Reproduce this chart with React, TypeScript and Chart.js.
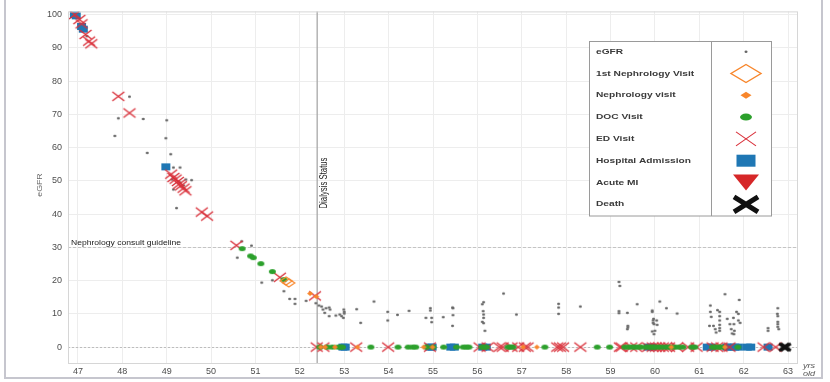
import React, { useEffect, useRef } from 'react';
import { Chart, registerables } from 'chart.js';
Chart.register(...registerables);

const FONT = '"Liberation Sans", Arial, Helvetica, sans-serif';

const xTicks = [47, 48, 49, 50, 51, 52, 53, 54, 55, 56, 57, 58, 59, 60, 61, 62, 63];
const yTicks = [0, 10, 20, 30, 40, 50, 60, 70, 80, 90, 100];
const guidelineEgfr = 30;
const dialysisAge = 52.39;

// [age, eGFR]
const egfr: number[][] = [
  [46.93, 100], [47.08, 96], [47.2, 93.5],
  [48.16, 75.3], [47.91, 68.8], [48.47, 68.6], [49.0, 68.2], [47.83, 63.5], [48.98, 62.8], [48.56, 58.4], [49.09, 58.0], [49.15, 54], [49.3, 54],
  [49.12, 50.4], [49.15, 47.4], [49.43, 50.4], [49.56, 50.2], [49.22, 41.8], [49.3, 49.5], [49.38, 48.6],
  [50.69, 31.8], [50.59, 26.9], [50.91, 30.5], [51.14, 19.4], [51.38, 20.1], [51.64, 16.8], [51.77, 14.5], [51.89, 14.5], [51.89, 13.0], [52.14, 13.9],
  [52.36, 13.2], [52.43, 12.5], [52.49, 12.2], [52.59, 11.7], [52.52, 11.3], [52.66, 11.9], [52.56, 10.3], [52.68, 11.3], [52.66, 9.3], [52.81, 9.5],
  [52.9, 9.8], [52.94, 9.3], [52.98, 8.8], [52.99, 11.3], [53.0, 10.6], [53.0, 10.1], [53.28, 11.4], [53.37, 7.3], [53.67, 13.7], [53.98, 10.6],
  [53.98, 8.0], [54.2, 9.7], [54.46, 10.9], [54.84, 8.8], [54.94, 11.7], [54.94, 11.0], [54.97, 8.8], [54.97, 7.5],
  [55.23, 9.0], [55.44, 11.9], [55.45, 11.7], [55.45, 9.6], [55.44, 6.4],
  [56.11, 12.9], [56.14, 13.5], [56.13, 10.8], [56.14, 9.8], [56.14, 8.8], [56.11, 7.6], [56.14, 7.2], [56.17, 4.9],
  [56.59, 16.1], [56.88, 9.8], [57.83, 13.0], [57.83, 11.9], [57.83, 10.0], [58.32, 12.2],
  [59.19, 19.6], [59.21, 18.4], [59.19, 10.8], [59.19, 10.2], [59.38, 10.3], [59.39, 6.4], [59.39, 5.9], [59.38, 5.4], [59.6, 12.9],
  [59.94, 11.0], [59.94, 10.6], [59.97, 8.5], [59.96, 8.0], [59.96, 7.3], [59.98, 6.9], [60.04, 8.0], [60.05, 6.7], [59.94, 4.7], [60.0, 4.9],
  [59.98, 3.9], [60.11, 13.7], [60.26, 11.7], [60.5, 10.1],
  [61.25, 12.5], [61.25, 10.6], [61.27, 9.1], [61.23, 6.4], [61.32, 6.4], [61.36, 5.4], [61.38, 4.4], [61.41, 11.1], [61.46, 10.6], [61.46, 9.3],
  [61.46, 8.0], [61.46, 6.7], [61.46, 5.7], [61.46, 4.9], [61.58, 15.9], [61.63, 8.5], [61.69, 6.9], [61.72, 5.4], [61.74, 4.1], [61.77, 8.8],
  [61.78, 6.9], [61.79, 4.9], [61.78, 3.9], [61.84, 10.6], [61.88, 10.0], [61.9, 14.2], [61.88, 8.0], [61.92, 7.3],
  [62.55, 5.7], [62.55, 4.9], [62.77, 11.7], [62.76, 10.0], [62.77, 9.3], [62.77, 7.6], [62.77, 6.9], [62.77, 6.1], [62.79, 5.4],
];

const firstNephrologyVisit: number[][] = [[51.69, 19.9], [51.75, 19.3]];

const nephrologyVisit: number[][] = [
  [52.23, 16.1], [52.37, 15.2],
  [52.47, 0], [52.57, 0], [52.79, 0], [53.3, 0], [54.79, 0], [54.99, 0], [57.03, 0], [57.34, 0], [60.37, 0], [61.58, 0],
];

const docVisit: number[][] = [
  [50.7, 29.6], [50.89, 27.4], [50.95, 26.9], [51.12, 25.1], [51.38, 22.7], [51.64, 20.3],
  [52.45, 0], [52.62, 0], [52.73, 0], [52.86, 0], [52.92, 0], [52.96, 0], [53.6, 0], [54.21, 0], [54.44, 0], [54.54, 0],
  [54.61, 0], [54.85, 0], [55.0, 0], [55.24, 0], [55.53, 0], [55.68, 0], [55.75, 0], [55.81, 0], [56.1, 0], [56.15, 0],
  [56.2, 0], [56.69, 0], [56.75, 0], [56.8, 0], [57.52, 0], [58.7, 0], [58.98, 0], [59.32, 0], [59.4, 0], [59.48, 0],
  [59.55, 0], [59.62, 0], [59.69, 0], [59.8, 0], [59.88, 0], [59.93, 0], [59.98, 0], [60.05, 0], [60.12, 0], [60.2, 0],
  [60.28, 0], [60.35, 0], [60.45, 0], [60.54, 0], [60.63, 0], [60.83, 0], [60.9, 0], [61.3, 0], [61.37, 0], [61.44, 0],
  [61.5, 0], [61.87, 0],
];

const edVisit: number[][] = [
  [46.93, 100], [47.03, 98.5], [47.08, 97.2], [47.17, 94], [47.25, 92], [47.3, 91.2], [47.91, 75.4], [48.16, 70.4],
  [49.1, 52], [49.15, 51], [49.2, 50.5], [49.25, 49.8], [49.28, 49], [49.32, 48.5], [49.38, 47.8], [49.42, 47],
  [49.79, 40.6], [49.91, 39.4], [50.57, 30.6], [51.55, 21.0], [52.34, 15.4],
  [52.38, 0], [52.53, 0], [53.27, 0], [53.99, 0], [54.93, 0], [56.05, 0], [56.23, 0], [56.5, 0], [56.57, 0], [56.77, 0],
  [56.92, 0], [57.07, 0], [57.13, 0], [57.8, 0], [57.86, 0], [57.93, 0], [58.32, 0], [59.21, 0], [59.25, 0], [59.47, 0],
  [59.58, 0], [59.85, 0], [59.95, 0], [60.02, 0], [60.1, 0], [60.18, 0], [60.25, 0], [60.32, 0], [60.5, 0], [60.75, 0],
  [60.94, 0], [61.3, 0], [61.4, 0], [61.5, 0], [61.68, 0], [62.45, 0], [62.72, 0],
];

const hospitalAdmission: number[][] = [
  [46.92, 100], [46.96, 99.6], [47.08, 96.4], [47.12, 95.6], [48.98, 54.2],
  [52.97, 0], [53.02, 0], [54.93, 0], [54.98, 0], [55.4, 0], [55.48, 0], [56.12, 0], [56.2, 0], [59.85, 0], [59.93, 0],
  [61.18, 0], [61.27, 0], [61.62, 0], [61.7, 0], [61.8, 0], [61.88, 0], [62.08, 0], [62.16, 0], [62.55, 0],
];

const acuteMI: number[][] = [];

const death: number[][] = [[62.91, 0], [62.95, 0]];

const seriesNames = ['eGFR', '1st Nephrology Visit', 'Nephrology visit', 'DOC Visit', 'ED Visit', 'Hospital Admission', 'Acute MI', 'Death'];

const COLORS: Record<string, string> = {
  egfr: '#666666',
  firstNeph: '#f8862b',
  neph: '#f8862b',
  doc: '#2ca02c',
  ed: '#d9303a',
  hosp: '#1f77b4',
  mi: '#d62728',
  death: '#111111',
};

function drawMarker(ctx: CanvasRenderingContext2D, type: string, cx: number, cy: number, w: number, h: number, lw: number) {
  ctx.save();
  const c = COLORS[type];
  ctx.fillStyle = c;
  ctx.strokeStyle = c;
  ctx.lineWidth = lw;
  const hw = w / 2, hh = h / 2;
  if (type === 'egfr' || type === 'doc') {
    ctx.beginPath();
    ctx.ellipse(cx, cy, hw, hh, 0, 0, Math.PI * 2);
    ctx.fill();
  } else if (type === 'firstNeph' || type === 'neph') {
    ctx.beginPath();
    ctx.moveTo(cx, cy - hh);
    ctx.lineTo(cx + hw, cy);
    ctx.lineTo(cx, cy + hh);
    ctx.lineTo(cx - hw, cy);
    ctx.closePath();
    if (type === 'neph') ctx.fill(); else ctx.stroke();
  } else if (type === 'ed' || type === 'death') {
    ctx.lineCap = 'butt';
    ctx.beginPath();
    ctx.moveTo(cx - hw, cy - hh);
    ctx.lineTo(cx + hw, cy + hh);
    ctx.moveTo(cx + hw, cy - hh);
    ctx.lineTo(cx - hw, cy + hh);
    ctx.stroke();
  } else if (type === 'hosp') {
    ctx.fillRect(cx - hw, cy - hh, w, h);
  } else if (type === 'mi') {
    ctx.beginPath();
    ctx.moveTo(cx - hw, cy - hh);
    ctx.lineTo(cx + hw, cy - hh);
    ctx.lineTo(cx, cy + hh);
    ctx.closePath();
    ctx.fill();
  }
  ctx.restore();
}

function markerCanvas(type: string, w: number, h: number, lw: number) {
  const c = document.createElement('canvas');
  const pad = Math.ceil(lw) + 1;
  c.width = w + pad * 2;
  c.height = h + pad * 2;
  const ctx = c.getContext('2d')!;
  drawMarker(ctx, type, c.width / 2, c.height / 2, w, h, lw);
  return c;
}

const legendSpec = [
  { type: 'egfr', w: 3, h: 2.5, lw: 1 },
  { type: 'firstNeph', w: 30, h: 18, lw: 1.4 },
  { type: 'neph', w: 11, h: 7, lw: 1 },
  { type: 'doc', w: 12, h: 7, lw: 1 },
  { type: 'ed', w: 20, h: 14, lw: 1.1 },
  { type: 'hosp', w: 19, h: 12, lw: 1 },
  { type: 'mi', w: 26, h: 16, lw: 1 },
  { type: 'death', w: 24, h: 15, lw: 5 },
];

function scaledText(ctx: CanvasRenderingContext2D, text: string, x: number, y: number, font: string, sx: number, align: CanvasTextAlign, color: string, rot = 0) {
  ctx.save();
  ctx.font = font;
  ctx.fillStyle = color;
  ctx.textAlign = align;
  ctx.textBaseline = 'middle';
  ctx.translate(x, y);
  if (rot) ctx.rotate(rot);
  ctx.scale(sx, 1);
  ctx.fillText(text, 0, 0);
  ctx.restore();
}

const decorPlugin = {
  id: 'decor',
  beforeDatasetsDraw(chart: any) {
    const { ctx, chartArea: a, scales } = chart;
    const xs = scales.x, ys = scales.y;
    ctx.save();
    ctx.strokeStyle = '#c4c4c4';
    ctx.lineWidth = 1;
    ctx.setLineDash([3, 2]);
    let py = Math.round(ys.getPixelForValue(guidelineEgfr)) + 0.5;
    ctx.beginPath(); ctx.moveTo(a.left, py); ctx.lineTo(a.right, py); ctx.stroke();
    ctx.setLineDash([2, 2]);
    ctx.strokeStyle = '#bdbdbd';
    py = Math.round(ys.getPixelForValue(0)) + 0.5;
    ctx.beginPath(); ctx.moveTo(a.left, py); ctx.lineTo(a.right, py); ctx.stroke();
    ctx.setLineDash([]);
    const px = xs.getPixelForValue(dialysisAge);
    ctx.strokeStyle = '#a8a8a8';
    ctx.lineWidth = 1.3;
    ctx.beginPath(); ctx.moveTo(px, a.top); ctx.lineTo(px, a.bottom); ctx.stroke();
    ctx.restore();
  },
  afterDraw(chart: any) {
    const { ctx, chartArea: a, scales } = chart;
    const xs = scales.x, ys = scales.y;
    ctx.save();
    ctx.strokeStyle = '#d6d6d6';
    ctx.lineWidth = 1;
    ctx.strokeRect(a.left + 0.5, a.top + 0.5, a.right - a.left - 1, a.bottom - a.top);
    ctx.strokeStyle = '#c6c6ce';
    ctx.lineWidth = 2;
    ctx.beginPath();
    ctx.moveTo(5, 0); ctx.lineTo(5, 378); ctx.lineTo(822, 378); ctx.lineTo(822, 0);
    ctx.stroke();

    ctx.font = `7px ${FONT}`;
    const gw = ctx.measureText('Nephrology consult guideline').width;
    scaledText(ctx, 'Nephrology consult guideline', a.left + 3, ys.getPixelForValue(guidelineEgfr) - 4, `7px ${FONT}`, 110 / gw, 'left', '#222');

    ctx.font = `10px ${FONT}`;
    const dw = ctx.measureText('Dialysis Status').width;
    scaledText(ctx, 'Dialysis Status', xs.getPixelForValue(dialysisAge) + 7.5, 183, `10px ${FONT}`, 51 / dw, 'center', '#222', -Math.PI / 2);

    scaledText(ctx, 'eGFR', 40, 185, `7px ${FONT}`, 1.25, 'center', '#666', -Math.PI / 2);
    scaledText(ctx, 'yrs', 809, 366, `italic 7px ${FONT}`, 1.3, 'center', '#555');
    scaledText(ctx, 'old', 809, 374, `italic 7px ${FONT}`, 1.3, 'center', '#555');

    const L = 589.5, R = 771.5, T = 41.5, B = 216, D = 711.5;
    ctx.fillStyle = '#ffffff';
    ctx.fillRect(L, T, R - L, B - T);
    ctx.strokeStyle = '#9a9a9a';
    ctx.lineWidth = 1;
    ctx.strokeRect(L, T, R - L, B - T);
    ctx.beginPath(); ctx.moveTo(D, T); ctx.lineTo(D, B); ctx.stroke();
    const lf = `bold 7.5px ${FONT}`;
    ctx.font = lf;
    const hw = ctx.measureText('Hospital Admission').width;
    const sx = 95 / hw;
    seriesNames.forEach((name, i) => {
      const cy = 51.7 + i * 21.8;
      scaledText(ctx, name, 596, cy, lf, sx, 'left', '#3a3a3a');
      const s = legendSpec[i];
      drawMarker(ctx, s.type, 746, cy, s.w, s.h, s.lw);
    });
    ctx.restore();
  },
};

export default function App() {
  const ref = useRef<HTMLCanvasElement>(null);
  useEffect(() => {
    const toPts = (arr: number[][]) => arr.map(([x, y]) => ({ x, y }));
    const ds = (label: string, arr: number[][], style: HTMLCanvasElement, order: number) => ({
      label,
      data: toPts(arr),
      pointStyle: style,
      pointRadius: 3,
      pointHoverRadius: 3,
      showLine: false,
      order,
    });
    const chart = new Chart(ref.current!, {
      type: 'scatter',
      data: {
        datasets: [
          ds(seriesNames[0], egfr, markerCanvas('egfr', 3, 2.5, 1), 8),
          ds(seriesNames[5], hospitalAdmission, markerCanvas('hosp', 9, 7, 1), 7),
          ds(seriesNames[4], edVisit, markerCanvas('ed', 12, 9, 1.4), 6),
          ds(seriesNames[3], docVisit, markerCanvas('doc', 7, 5, 1), 5),
          ds(seriesNames[2], nephrologyVisit, markerCanvas('neph', 6, 5, 1), 4),
          ds(seriesNames[1], firstNephrologyVisit, markerCanvas('firstNeph', 12, 8, 1.2), 3),
          ds(seriesNames[6], acuteMI, markerCanvas('mi', 12, 8, 1), 2),
          ds(seriesNames[7], death, markerCanvas('death', 10, 7, 2.8), 1),
        ] as any,
      },
      options: {
        animation: false,
        responsive: false,
        events: [],
        layout: { padding: { top: 2.5, right: 32, left: 0, bottom: 0 } },
        plugins: { legend: { display: false }, tooltip: { enabled: false } },
        scales: {
          x: {
            type: 'linear',
            min: 46.775,
            max: 63.225,
            afterBuildTicks: (s: any) => { s.ticks = xTicks.map((v) => ({ value: v })); },
            afterFit: (s: any) => { s.height = 19; },
            ticks: { font: { size: 9, family: FONT }, color: '#4d4d4d', padding: 3, maxRotation: 0, callback: (v: any) => String(v) },
            grid: { color: '#ededed', lineWidth: 1, drawTicks: false },
            border: { display: false },
          },
          y: {
            type: 'linear',
            min: -4.78,
            max: 100.94,
            afterBuildTicks: (s: any) => { s.ticks = yTicks.map((v) => ({ value: v })); },
            afterFit: (s: any) => { s.width = 68; },
            ticks: { font: { size: 9, family: FONT }, color: '#4d4d4d', padding: 6, callback: (v: any) => String(v) },
            grid: { color: '#ededed', lineWidth: 1, drawTicks: false },
            border: { display: false },
          },
        },
      },
      plugins: [decorPlugin],
    } as any);
    return () => chart.destroy();
  }, []);
  return (
    <div style={{ position: 'fixed', left: 0, top: 0, width: 830, height: 382, background: '#fff' }}>
      <canvas ref={ref} width={830} height={382} style={{ width: 830, height: 382, display: 'block' }} />
    </div>
  );
}
